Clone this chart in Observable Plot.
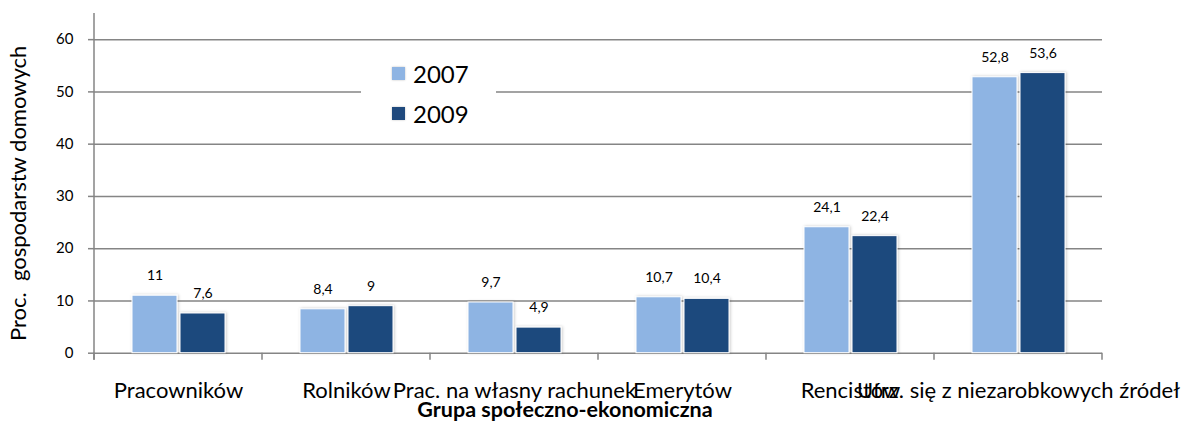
<!DOCTYPE html>
<html>
<head>
<meta charset="utf-8">
<script src="https://cdn.jsdelivr.net/npm/d3@7"></script>
<script src="https://cdn.jsdelivr.net/npm/@observablehq/plot@0.6"></script>
<style>
  html, body { margin: 0; padding: 0; background: #fff; }
  #wrap { position: relative; width: 1183px; height: 421px; font-family: Lato, "Noto Sans", sans-serif; color: #000; }
  #xtitle { position: absolute; left: 0; top: 398px; width: 1130px; text-align: center; font-weight: bold; font-size: 21.5px; line-height: 22px; }
  #legend { position: absolute; left: 361px; top: 45px; width: 135px; height: 93px; background: #fff; }
  .item { position: absolute; left: 31px; height: 30px; display: flex; align-items: center; font-size: 24px; }
  .sw { width: 13px; height: 13px; margin-right: 8px; box-shadow: 0 0 2px rgba(0,0,0,0.25); }
</style>
</head>
<body>
<div id="wrap"></div>
<script>
const categories = ["Pracowników", "Rolników", "Prac. na własny rachunek", "Emerytów", "Rencistów", "Utrz. się z niezarobkowych źródeł"];
const years = ["2007", "2009"];
const values2007 = [11, 8.4, 9.7, 10.7, 24.1, 52.8];
const values2009 = [7.6, 9, 4.9, 10.4, 22.4, 53.6];
const yTicks = [0, 10, 20, 30, 40, 50, 60];
const yMax = 65;
const colors = ["#8EB4E3", "#1F497D"];
const yTitle = "Proc.\u00a0 gospodarstw domowych";
const xTitle = "Grupa społeczno-ekonomiczna";

const rows = categories.flatMap((c, i) => [
  {category: c, year: years[0], value: values2007[i]},
  {category: c, year: years[1], value: values2009[i]}
]);

const fmt = v => String(v).replace(".", ",");
const gridColor = "#858585";

const chart = Plot.plot({
  width: 1183,
  height: 396,
  marginTop: 13,
  marginBottom: 43.3,
  marginLeft: 93,
  marginRight: 81,
  style: {fontFamily: "Lato, 'Noto Sans', sans-serif", fontSize: "15px", color: "#000", background: "#fff", overflow: "visible"},
  fx: {domain: categories, padding: 0, axis: "bottom", tickSize: 0, tickPadding: 29, label: null},
  x: {domain: years, axis: null, paddingInner: 0.07, paddingOuter: 0.78},
  y: {domain: [0, yMax], ticks: yTicks, tickSize: 6, tickPadding: 15, label: yTitle, labelArrow: "none", labelAnchor: "center", labelOffset: 84},
  color: {domain: years, range: colors},
  marks: [
    Plot.ruleY(yTicks, {stroke: gridColor, strokeWidth: 1.5}),
    Plot.barY(rows, {fx: "category", x: "year", y: "value", fill: "year", stroke: "#fff", strokeWidth: 1}),
    Plot.text(rows, {fx: "category", x: "year", y: "value", text: d => fmt(d.value), dy: -20, fontSize: 14, fill: "#000"})
  ]
});

const wrap = document.getElementById("wrap");
wrap.appendChild(chart);
const svg = d3.select(chart);

// styles for axes
svg.selectAll('g[aria-label^="fx-axis"] text').style("font-size", "22px");
svg.selectAll('g[aria-label="y-axis label"] text').style("font-size", "22px").attr("dx", -10);
svg.selectAll('g[aria-label="y-axis tick"]').attr("stroke", gridColor).attr("stroke-width", 1.5);
svg.selectAll('g[aria-label="y-axis tick"] path, g[aria-label="y-axis tick"] line').attr("stroke", gridColor).attr("stroke-width", 1.5);

// bar shadow
const defs = svg.insert("defs", ":first-child");
const f = defs.append("filter").attr("id", "barShadow").attr("x", "-20%").attr("y", "-10%").attr("width", "140%").attr("height", "120%");
f.append("feDropShadow").attr("dx", 1).attr("dy", 0).attr("stdDeviation", 1.6).attr("flood-color", "#000").attr("flood-opacity", 0.22);
svg.selectAll('g[aria-label="bar"] rect').attr("filter", "url(#barShadow)");

// y-axis line and category boundary ticks, from the plot's scales
const fx = chart.scale("fx");
const y = chart.scale("y");
const starts = categories.map(c => fx.apply(c));
const bounds = [...starts, starts[starts.length - 1] + fx.bandwidth];
const g = svg.append("g").attr("stroke", gridColor).attr("stroke-width", 1.5);
g.append("line").attr("x1", bounds[0]).attr("x2", bounds[0]).attr("y1", y.apply(yMax)).attr("y2", y.apply(0) + 7);
bounds.forEach(b => g.append("line").attr("x1", b).attr("x2", b).attr("y1", y.apply(0)).attr("y2", y.apply(0) + 7));

// x title
const xt = document.createElement("div");
xt.id = "xtitle";
xt.textContent = xTitle;
wrap.appendChild(xt);

// legend
const lg = document.createElement("div");
lg.id = "legend";
years.forEach((yr, i) => {
  const it = document.createElement("div");
  it.className = "item";
  it.style.top = (13 + i * 40) + "px";
  const sw = document.createElement("span");
  sw.className = "sw";
  sw.style.background = colors[i];
  it.appendChild(sw);
  it.appendChild(document.createTextNode(yr));
  lg.appendChild(it);
});
wrap.appendChild(lg);
</script>
</body>
</html>
